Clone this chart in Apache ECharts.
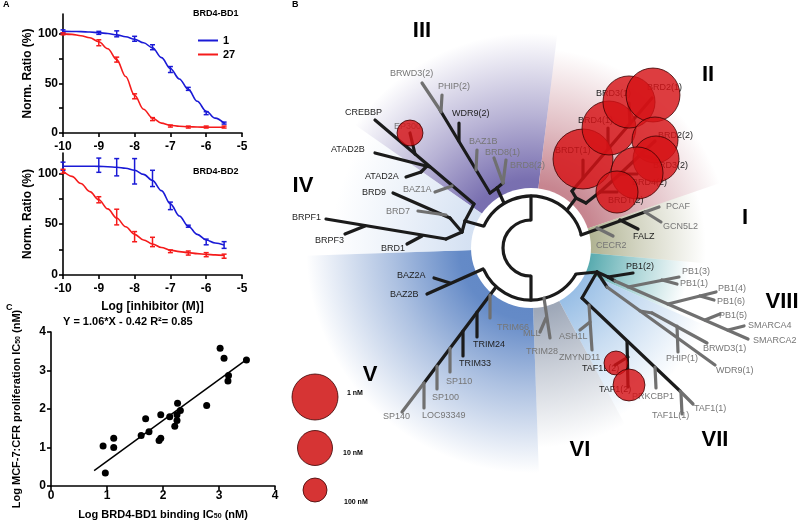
<!DOCTYPE html>
<html><head><meta charset="utf-8">
<script src="https://cdn.jsdelivr.net/npm/echarts@6/dist/echarts.min.js"></script>
<style>html,body{margin:0;padding:0;background:#fff}#chart{width:800px;height:525px}</style>
</head><body><div id="chart"></div>
<script>
// ================= Panel A : dose-response =================
const doseLog = [-10, -9, -8.5, -8, -7.5, -7, -6.5, -6, -5.5];
const bd1Cmpd1Mean  = [102.5, 101, 100, 95, 86.5, 64, 44.5, 20, 10];
const bd1Cmpd1Err   = [1.5, 1.5, 3, 2.5, 2.5, 3, 1.5, 1.5, 1];
const bd1Cmpd27Mean = [100, 91, 74, 37, 14, 7, 6, 6, 6];
const bd1Cmpd27Err  = [1, 3, 2.5, 2.5, 1.5, 1, 1, 1, 1];
const bd2Cmpd1Mean  = [107, 108, 106, 102, 95, 68, 48, 32.5, 29.5];
const bd2Cmpd1Err   = [4, 7, 8.5, 12.5, 8, 3.7, 1, 2.8, 3.3];
const bd2Cmpd27Mean = [102, 74, 57, 37.7, 32.5, 23.3, 21.6, 20, 18.5];
const bd2Cmpd27Err  = [2, 3, 7.7, 5, 4.6, 1.3, 2, 2, 2];

const fitLog = [-10, -9.75, -9.5, -9.25, -9, -8.75, -8.5, -8.25, -8, -7.75, -7.5, -7.25, -7, -6.75, -6.5, -6.25, -6, -5.75, -5.5];
const bd1Cmpd1Fit  = [102.5, 102.4, 102.2, 101.8, 101.2, 100.3, 99, 97, 94.5, 91, 86, 76, 65, 54.5, 44, 32, 22, 15, 10];
const bd1Cmpd27Fit = [100, 99.5, 98, 96, 92, 85, 74, 57, 38, 24, 15, 10, 7.8, 6.8, 6.3, 6, 5.9, 5.8, 5.8];
const bd2Cmpd1Fit  = [107, 107, 107, 107, 106.8, 106.5, 106, 105, 103, 99, 93, 83, 70, 58, 48, 40, 34.5, 31.5, 29.5];
const bd2Cmpd27Fit = [102.5, 97, 90, 82, 74, 65, 56, 47.5, 40, 34.5, 30.5, 27, 24.5, 23, 22, 21, 20.3, 19.8, 19.3];

const ratioTicks  = [0, 25, 50, 75, 100];
const ratioLabels = [0, 50, 100];

// ================= Panel C : correlation =================
const bindingLogIC50 = [0.93, 0.97, 1.12, 1.12, 1.61, 1.75, 1.69, 1.93, 1.96, 1.96, 2.12, 2.21, 2.26, 2.25, 2.25, 2.31, 2.78, 3.02, 3.09, 3.17, 3.16, 3.49];
const prolifLogIC50  = [1.04, 0.34, 1.24, 1.00, 1.31, 1.41, 1.75, 1.18, 1.24, 1.85, 1.80, 1.55, 2.15, 1.70, 1.85, 1.96, 2.09, 3.58, 3.32, 2.87, 2.73, 3.27];
const regressionX = [0.77, 3.49];
const regressionY = [0.40, 3.28];
const equationText = 'Y = 1.06*X - 0.42 R\u00B2= 0.85';

// ================= Panel B : bromodomain tree (layout units, root at 0,0) =================
// [x1, y1, x2, y2, notProfiled(1 = grey branch)]
const treeEdges = [
  [0,-28,0,-52,0],[0,28,0,52,0],
  [-27,-45,-34,-60,0],[-34,-60,-41,-55,0],[-34,-60,-28,-65,0],[-28,-65,-37,-90,1],[-28,-65,-25,-88,1],
  [-41,-55,-91,-138,0],[-91,-138,-109,-165,1],[-90,-136,-89,-153,1],[-72,-107,-72,-125,0],[-55,-78,-54,-98,1],
  [-48,-22,-66,-27,0],[-66,-27,-57,-44,0],[-57,-44,-156,-128,0],[-116,-94,-121,-115,0],[-79,-62,-96,-56,1],
  [-101,-81,-156,-95,0],[-104,-82,-110,-76,0],[-110,-76,-125,-71,0],
  [-66,-27,-69,-16,0],[-69,-16,-81,-30,0],[-81,-30,-138,-55,0],[-85,-33,-113,-37,1],[-69,-16,-85,-9,0],
  [-85,-9,-205,-29,0],[-166,-22,-186,-14,0],[-109,-12,-124,-4,0],
  [36,-38,45,-50,0],[45,-50,41,-57,0],[41,-57,121,-150,0],[52,-70,52,-88,0],[77,-99,77,-120,0],[99,-124,98,-145,0],
  [45,-50,55,-45,0],[55,-45,69,-56,0],[69,-56,86,-56,0],[69,-56,89,-74,0],[89,-74,106,-74,0],[89,-74,124,-107,0],[109,-93,125,-89,0],
  [50,-13,114,-36,0],[114,-36,128,-41,1],[114,-36,130,-26,1],[89,-28,107,-19,0],[66,-20,82,-12,1],
  [45,26,66,24,0],[66,24,51,50,0],[51,50,149,143,0],[149,143,162,156,1],[150,145,151,166,1],
  [96,93,97,139,0],[97,109,84,117,0],[124,119,125,140,1],[58,57,61,102,1],[59,74,49,82,1],
  [66,24,77,29,0],[77,29,102,25,0],[77,29,84,33,0],[84,33,217,91,1],[97,39,148,29,1],[131,32,146,36,1],
  [137,56,185,44,1],[169,48,183,52,1],[174,72,189,66,1],[197,82,213,78,1],
  [66,24,76,39,0],[76,39,184,117,1],[109,63,121,65,1],[121,65,176,95,1],[146,78,147,104,1],
  [13,50,19,90,1],[15,70,9,84,1],
  [-48,21,-104,46,0],[-81,35,-97,30,0],[-35,39,-107,135,0],[-107,135,-129,164,1],
  [-41,47,-41,70,1],[-54,64,-54,89,0],[-68,83,-68,108,0],[-81,100,-81,124,1],[-94,118,-94,141,1],[-107,135,-107,160,1]
];
// hub: [radius, startDeg, endDeg]
const hubArcs = [[28, 90, 270], [52, -156, -15], [52, 30, 156]];
const hubDiscRadius = [60];

// [name, x, y, notProfiled]
const leafLabels = [
  ['BRWD3(2)',-141,-174,1],['PHIP(2)',-93,-161,1],['WDR9(2)',-79,-134,0],['CREBBP',-186,-135,0],['EP300',-137,-121,1],
  ['BAZ1B',-62,-106,1],['BRD8(1)',-46,-95,1],['BRD8(2)',-21,-82,1],['ATAD2B',-200,-98,0],['ATAD2A',-166,-71,0],
  ['BAZ1A',-128,-58,1],['BRD9',-169,-55,0],['BRD7',-145,-36,1],['BRPF1',-239,-30,0],['BRPF3',-216,-7,0],['BRD1',-150,1,0],
  ['BRD3(1)',65,-154,0],['BRD2(1)',116,-160,0],['BRD4(1)',47,-127,0],['BRDT(1)',24,-97,0],['BRD2(2)',127,-112,0],
  ['BRD3(2)',122,-82,0],['BRD4(2)',101,-65,0],['BRDT(2)',77,-47,0],
  ['PCAF',135,-41,1],['GCN5L2',132,-21,1],['FALZ',102,-11,0],['CECR2',65,-2,1],
  ['BAZ2A',-134,28,0],['BAZ2B',-141,47,0],['TRIM66',-34,80,1],['TRIM24',-58,97,0],['TRIM33',-72,116,0],
  ['SP110',-85,134,1],['SP100',-99,150,1],['SP140',-148,169,1],['LOC93349',-109,168,1],
  ['PB1(2)',95,19,0],['PB1(3)',151,24,1],['PB1(1)',149,36,1],['PB1(4)',187,41,1],['PB1(6)',186,54,1],['PB1(5)',188,68,1],
  ['SMARCA4',217,78,1],['SMARCA2',222,93,1],['BRWD3(1)',172,101,1],['PHIP(1)',135,111,1],['WDR9(1)',185,123,1],
  ['ZMYND11',28,110,1],['ASH1L',28,89,1],['MLL',-8,86,1],['TRIM28',-5,104,1],
  ['TAF1L(2)',51,121,0],['TAF1(2)',68,142,0],['PRKCBP1',101,149,1],['TAF1L(1)',121,168,1],['TAF1(1)',163,161,1]
];

// bromodomains with measured potency (nM) -> bubble
const bubbleNames = ['BRDT(1)','BRD4(1)','BRD3(1)','BRD2(1)','BRD2(2)','BRD3(2)','BRD4(2)','BRDT(2)','EP300','TAF1L(2)','TAF1(2)'];
const bubbleX     = [52, 78, 98, 122, 124, 125, 106, 86, -121, 85, 98];
const bubbleY     = [-89, -120, -146, -153, -108, -89, -75, -56, -115, 115, 137];
const bubbleIC50  = [0.054, 0.19, 0.28, 0.19, 1.0, 1.0, 0.28, 2.3, 66, 100, 19];

const legendIC50   = [1, 10, 100];
const legendNames  = ['1 nM', '10 nM', '100 nM'];
const legendBubX   = [-216, -216, -216];
const legendBubY   = [149, 200, 242];
const legendTextX  = [-184, -188, -187];
const legendTextY  = [145, 205, 254];

const cladeNames = ['III', 'II', 'I', 'IV', 'V', 'VI', 'VII', 'VIII'];
const cladeX     = [-109, 177, 214, -228, -161, 49, 184, 251];
const cladeY     = [-217, -173, -30, -62, 127, 202, 192, 54];

// family wedges (screen angles, degrees clockwise from +x)
const sectorStartDeg = [-145, -83, -19, 5, 24, 62, 88, 178];
const sectorEndDeg   = [-83, -19, 5, 24, 62, 88, 178, 215];
const sectorReach    = [215, 200, 175, 160, 190, 200, 225, 200];

// ================= styles =================
const FONT = '"Liberation Sans", Arial, Helvetica, sans-serif';
const BLUE = '#1a1ad6', RED = '#f51b1b';
const BLACK_LINE = '#1b1b1b', GRAY_LINE = '#707070';
const BLACK_TEXT = '#1e1e1e', GRAY_TEXT = '#767676';
const SECTOR_COLORS = ['#7268ac', '#c47f8a', '#a9ac88', '#3f9ea3', '#93bbe4', '#9aa4b5', '#5c84c4', '#d3e0f2'];
const BUBBLE_FILL = 'rgba(214,18,22,0.82)';

const rad = d => d * Math.PI / 180;
function rgba(hex, a) { const n = parseInt(hex.slice(1), 16); return 'rgba(' + ((n >> 16) & 255) + ',' + ((n >> 8) & 255) + ',' + (n & 255) + ',' + a + ')'; }
const bubbleSize = nM => 2 * (23 - 5.5 * Math.log10(nM));

const axisLine = { show: true, onZero: false, lineStyle: { color: '#000', width: 1.6 } };
const tickLbl = { color: '#000', fontFamily: FONT, fontWeight: 'bold', fontSize: 12 };
const nameStyle = { color: '#000', fontFamily: FONT, fontWeight: 'bold', fontSize: 12 };
const richSub = { s: { fontFamily: FONT, fontWeight: 'bold', fontSize: 7, verticalAlign: 'bottom', color: '#000' } };

function doseAxisX(gi, withName) {
  const ax = { gridIndex: gi, type: 'value', min: -10, max: -5, interval: 1, axisLine: axisLine,
    axisTick: { show: true, length: 4, lineStyle: { color: '#000', width: 1.6 } },
    axisLabel: Object.assign({ margin: 8 }, tickLbl), splitLine: { show: false } };
  if (withName) Object.assign(ax, { name: 'Log [inhibitor (M)]', nameLocation: 'middle', nameGap: 26, nameMoveOverlap: false, nameTextStyle: nameStyle });
  return ax;
}
function ratioAxisY(gi) {
  return { gridIndex: gi, type: 'value', min: 0, max: 120, interval: 25, axisLine: axisLine,
    axisTick: { show: true, length: 4, customValues: ratioTicks, lineStyle: { color: '#000', width: 1.6 } },
    axisLabel: Object.assign({ margin: 5, customValues: ratioLabels }, tickLbl), splitLine: { show: false },
    name: 'Norm. Ratio (%)', nameLocation: 'middle', nameGap: 29, nameMoveOverlap: false, nameTextStyle: nameStyle };
}

function errRender(params, api) {
  const x = api.value(0), m = api.value(1), e = api.value(2);
  const t = api.coord([x, m + e]), b = api.coord([x, m - e]);
  const w = 2.5, col = api.visual('color');
  const st = { stroke: col, lineWidth: 1.5 };
  return { type: 'group', children: [
    { type: 'line', shape: { x1: t[0], y1: t[1], x2: b[0], y2: b[1] }, style: st },
    { type: 'line', shape: { x1: t[0] - w, y1: t[1], x2: t[0] + w, y2: t[1] }, style: st },
    { type: 'line', shape: { x1: b[0] - w, y1: b[1], x2: b[0] + w, y2: b[1] }, style: st }
  ] };
}
function curve(name, gi, ys, col) {
  return { type: 'line', name: name, xAxisIndex: gi, yAxisIndex: gi, data: fitLog.map((x, i) => [x, ys[i]]),
    smooth: 0.35, smoothMonotone: 'x', showSymbol: false, symbol: 'none', lineStyle: { width: 1.6, color: col },
    itemStyle: { color: col }, z: 3, silent: true };
}
function errSeries(gi, means, errs, col) {
  return { type: 'custom', name: 'err', xAxisIndex: gi, yAxisIndex: gi, data: doseLog.map((x, i) => [x, means[i], errs[i]]),
    renderItem: errRender, itemStyle: { color: col }, z: 4, silent: true };
}
const T = 3; // tree grid index
function treeSeries(extra) { return Object.assign({ xAxisIndex: T, yAxisIndex: T, silent: true, animation: false }, extra); }

const option = {
  animation: false,
  backgroundColor: '#fff',
  textStyle: { fontFamily: FONT },
  title: [
    { text: 'A', left: 3, top: 0, padding: 0, textStyle: { fontSize: 9, fontWeight: 'bold', color: '#000', fontFamily: FONT } },
    { text: 'B', left: 292, top: 0, padding: 0, textStyle: { fontSize: 9, fontWeight: 'bold', color: '#000', fontFamily: FONT } },
    { text: 'C', left: 6, top: 303, padding: 0, textStyle: { fontSize: 9, fontWeight: 'bold', color: '#000', fontFamily: FONT } },
    { text: 'BRD4-BD1', left: 193, top: 9, padding: 0, textStyle: { fontSize: 9, fontWeight: 'bold', color: '#000', fontFamily: FONT } },
    { text: 'BRD4-BD2', left: 193, top: 167, padding: 0, textStyle: { fontSize: 9, fontWeight: 'bold', color: '#000', fontFamily: FONT } },
    { text: equationText, left: 63, top: 316, padding: 0, textStyle: { fontSize: 11, fontWeight: 'bold', color: '#000', fontFamily: FONT } }
  ],
  legend: { data: ['1', '27'], orient: 'vertical', left: 198, top: 35, padding: 0, itemGap: 3, itemWidth: 20, itemHeight: 2,
    icon: 'rect', selectedMode: false, textStyle: { color: '#000', fontWeight: 'bold', fontSize: 11, fontFamily: FONT } },
  grid: [
    { left: 63, top: 14, width: 179, height: 119, containLabel: false, outerBoundsMode: 'none' },
    { left: 63, top: 153, width: 179, height: 122, containLabel: false, outerBoundsMode: 'none' },
    { left: 51, top: 332, width: 224, height: 154, containLabel: false, outerBoundsMode: 'none' },
    { left: 240, top: 0, width: 560, height: 525, containLabel: false, outerBoundsMode: 'none' }
  ],
  xAxis: [
    doseAxisX(0, false),
    doseAxisX(1, true),
    { gridIndex: 2, type: 'value', min: 0, max: 4, interval: 1, axisLine: axisLine,
      axisTick: { show: true, length: 4, lineStyle: { color: '#000', width: 1.6 } },
      axisLabel: Object.assign({ margin: 4 }, tickLbl), splitLine: { show: false },
      name: 'Log BRD4-BD1 binding IC{s|50} (nM)', nameLocation: 'middle', nameGap: 23, nameMoveOverlap: false,
      nameTextStyle: Object.assign({}, nameStyle, { fontSize: 11, rich: richSub }) },
    { gridIndex: T, type: 'value', min: -291, max: 269, show: false }
  ],
  yAxis: [
    ratioAxisY(0),
    ratioAxisY(1),
    { gridIndex: 2, type: 'value', min: 0, max: 4, interval: 1, axisLine: axisLine,
      axisTick: { show: true, length: 4, lineStyle: { color: '#000', width: 1.6 } },
      axisLabel: Object.assign({ margin: 5 }, tickLbl), splitLine: { show: false },
      name: 'Log MCF-7:CFR proliferation IC{s|50} (nM)', nameLocation: 'middle', nameGap: 29, nameMoveOverlap: false,
      nameTextStyle: Object.assign({}, nameStyle, { fontSize: 11, rich: richSub }) },
    { gridIndex: T, type: 'value', min: -248, max: 277, inverse: true, show: false }
  ],
  series: [
    // ---- Panel A top (BD1)
    curve('1', 0, bd1Cmpd1Fit, BLUE), curve('27', 0, bd1Cmpd27Fit, RED),
    errSeries(0, bd1Cmpd1Mean, bd1Cmpd1Err, BLUE), errSeries(0, bd1Cmpd27Mean, bd1Cmpd27Err, RED),
    // ---- Panel A bottom (BD2)
    curve('1', 1, bd2Cmpd1Fit, BLUE), curve('27', 1, bd2Cmpd27Fit, RED),
    errSeries(1, bd2Cmpd1Mean, bd2Cmpd1Err, BLUE), errSeries(1, bd2Cmpd27Mean, bd2Cmpd27Err, RED),
    // ---- Panel C
    { type: 'line', name: 'fit', xAxisIndex: 2, yAxisIndex: 2, data: regressionX.map((x, i) => [x, regressionY[i]]),
      symbol: 'none', lineStyle: { color: '#000', width: 1.5 }, z: 3, silent: true },
    { type: 'scatter', name: 'cmpds', xAxisIndex: 2, yAxisIndex: 2, data: bindingLogIC50.map((x, i) => [x, prolifLogIC50[i]]),
      symbolSize: 7, itemStyle: { color: '#000', opacity: 1 }, z: 4, silent: true },
    // ---- Panel B
    treeSeries({ type: 'custom', name: 'wedges', z: 1, data: sectorStartDeg.map((s, i) => [s, sectorEndDeg[i], sectorReach[i]]),
      renderItem: function (params, api) {
        const i = params.dataIndex, c = api.coord([0, 0]);
        const R = api.size([sectorReach[i], 0])[0], col = SECTOR_COLORS[i];
        return { type: 'sector', shape: { cx: c[0], cy: c[1], r0: 0, r: R, startAngle: rad(sectorStartDeg[i]), endAngle: rad(sectorEndDeg[i]), clockwise: true },
          style: { fill: { type: 'radial', x: c[0], y: c[1], r: R, global: true, colorStops: [
            { offset: 0, color: rgba(col, 1) }, { offset: 0.32, color: rgba(col, 0.95) },
            { offset: 0.62, color: rgba(col, 0.5) }, { offset: 1, color: rgba(col, 0) }] } } };
      } }),
    treeSeries({ type: 'custom', name: 'disc', z: 2, data: hubDiscRadius.map(r => [0, 0, r]),
      renderItem: function (params, api) {
        const c = api.coord([0, 0]), r = api.size([api.value(2), 0])[0];
        return { type: 'circle', shape: { cx: c[0], cy: c[1], r: r }, style: { fill: '#fff' } };
      } }),
    treeSeries({ type: 'custom', name: 'hub', z: 3, data: hubArcs,
      renderItem: function (params, api) {
        const c = api.coord([0, 0]), r = api.size([api.value(0), 0])[0];
        return { type: 'arc', shape: { cx: c[0], cy: c[1], r: r, startAngle: rad(api.value(1)), endAngle: rad(api.value(2)), clockwise: true },
          style: { stroke: BLACK_LINE, lineWidth: 3.2, fill: null } };
      } }),
    treeSeries({ type: 'custom', name: 'branches', z: 3, data: treeEdges,
      renderItem: function (params, api) {
        const p1 = api.coord([api.value(0), api.value(1)]), p2 = api.coord([api.value(2), api.value(3)]);
        return { type: 'line', shape: { x1: p1[0], y1: p1[1], x2: p2[0], y2: p2[1] },
          style: { stroke: api.value(4) ? GRAY_LINE : BLACK_LINE, lineWidth: 3.2, lineCap: 'round' } };
      } }),
    treeSeries({ type: 'custom', name: 'leafLabels', z: 4, data: leafLabels.map(l => [l[1], l[2], l[3]]),
      renderItem: function (params, api) {
        const p = api.coord([api.value(0), api.value(1)]);
        return { type: 'text', x: p[0], y: p[1], style: { text: leafLabels[params.dataIndex][0], fill: api.value(2) ? GRAY_TEXT : BLACK_TEXT,
          font: '9px ' + FONT, align: 'left', verticalAlign: 'middle', textAlign: 'left', textVerticalAlign: 'middle' } };
      } }),
    treeSeries({ type: 'scatter', name: 'potency', z: 5, data: bubbleX.map((x, i) => ({ name: bubbleNames[i], value: [x, bubbleY[i], bubbleIC50[i]] })),
      symbolSize: v => bubbleSize(v[2]), clip: false,
      itemStyle: { color: BUBBLE_FILL, borderColor: '#3a0000', borderWidth: 0.8, opacity: 1 } }),
    treeSeries({ type: 'scatter', name: 'potencyKey', z: 5, data: legendBubX.map((x, i) => [x, legendBubY[i], legendIC50[i]]),
      symbolSize: v => bubbleSize(v[2]), clip: false,
      itemStyle: { color: 'rgba(214,52,52,1)', borderColor: '#3a0000', borderWidth: 0.8, opacity: 1 } }),
    treeSeries({ type: 'custom', name: 'keyText', z: 5, data: legendTextX.map((x, i) => [x, legendTextY[i]]),
      renderItem: function (params, api) {
        const p = api.coord([api.value(0), api.value(1)]);
        return { type: 'text', x: p[0], y: p[1], style: { text: legendNames[params.dataIndex], fill: '#000',
          font: 'bold 7px ' + FONT, align: 'left', verticalAlign: 'middle', textAlign: 'left', textVerticalAlign: 'middle' } };
      } }),
    treeSeries({ type: 'custom', name: 'clades', z: 6, data: cladeX.map((x, i) => [x, cladeY[i]]),
      renderItem: function (params, api) {
        const p = api.coord([api.value(0), api.value(1)]);
        return { type: 'text', x: p[0], y: p[1], style: { text: cladeNames[params.dataIndex], fill: '#000',
          font: 'bold 22px ' + FONT, align: 'center', verticalAlign: 'middle', textAlign: 'center', textVerticalAlign: 'middle' } };
      } })
  ]
};

const chart = echarts.init(document.getElementById('chart'), null, { renderer: 'canvas' });
chart.setOption(option);
</script>
</body></html>
